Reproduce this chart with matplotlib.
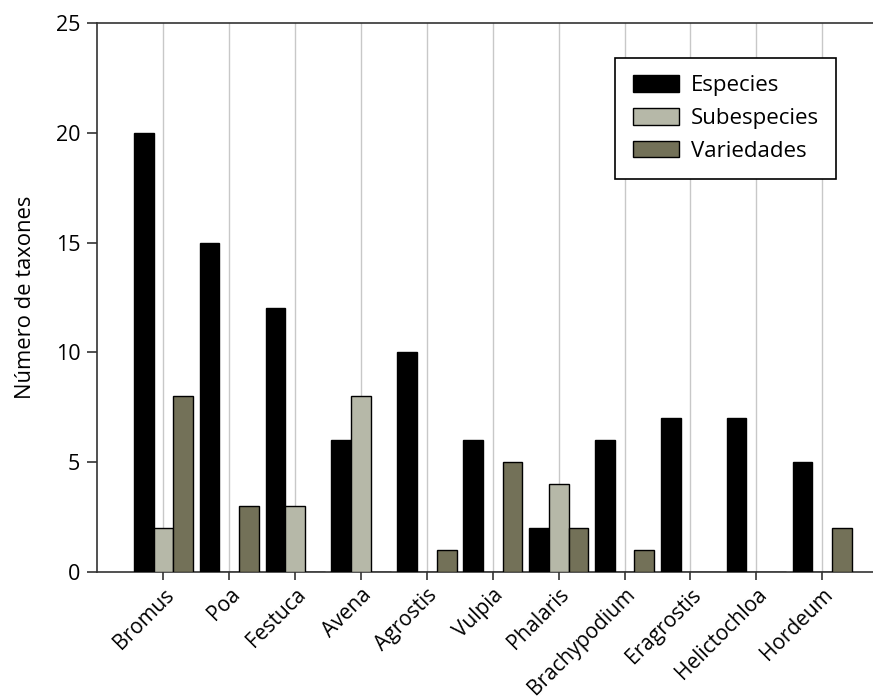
import numpy as np
import matplotlib
matplotlib.use('Agg')
import matplotlib.pyplot as plt
import matplotlib.transforms as mtransforms

plt.rcParams['font.family'] = ['Open Sans', 'DejaVu Sans']

generos = ['Bromus', 'Poa', 'Festuca', 'Avena', 'Agrostis', 'Vulpia', 'Phalaris',
           'Brachypodium', 'Eragrostis', 'Helictochloa', 'Hordeum']
especies = [20, 15, 12, 6, 10, 6, 2, 6, 7, 7, 5]
subespecies = [2, 0, 3, 8, 0, 0, 4, 0, 0, 0, 0]
variedades = [8, 3, 0, 0, 1, 5, 2, 1, 0, 0, 2]

names = ['Especies', 'Subespecies', 'Variedades']
colors = ['#000000', '#b6b8a8', '#737158']
fs = 15.5

fig = plt.figure(figsize=(8.73, 6.99), dpi=100)
ax = fig.add_axes([0.111, 0.182, 0.895, 0.785])

x = np.arange(len(generos))
w = 0.3
for k, vals in enumerate([especies, subespecies, variedades]):
    ax.bar(x + (k - 1) * w, vals, width=w, color=colors[k], edgecolor='black',
           linewidth=1, label=names[k], zorder=3)

ax.set_xlim(-1.01, 10.85)
ax.set_ylim(0, 25)
ax.set_yticks([0, 5, 10, 15, 20, 25])
ax.set_xticks(x)
ax.set_xticklabels(generos, rotation=45, ha='right', rotation_mode='anchor')
offset = mtransforms.ScaledTranslation(4 / 100, 4 / 100, fig.dpi_scale_trans)
for lab in ax.get_xticklabels():
    lab.set_transform(lab.get_transform() + offset)
ax.xaxis.grid(True, color='#c8c8c8', linewidth=1, zorder=0)
ax.set_axisbelow(True)
ax.spines['right'].set_visible(False)
for s in ['left', 'bottom', 'top']:
    ax.spines[s].set_linewidth(1.2)
    ax.spines[s].set_color('#333333')
ax.tick_params(axis='both', labelsize=fs, width=1.2, color='#333333', direction='out')
ax.tick_params(axis='x', length=6, pad=3, labelsize=15)
ax.tick_params(axis='y', length=7, pad=5)
ax.set_ylabel('Número de taxones', fontsize=15.8, labelpad=14)

leg = ax.legend(loc='upper right', bbox_to_anchor=(836 / 873, 1 - 58 / 699),
                bbox_transform=fig.transFigure, fontsize=16, fancybox=False,
                edgecolor='black', framealpha=1, borderpad=0.78, handlelength=2.1,
                handleheight=0.78, handletextpad=0.5, labelspacing=0.52, borderaxespad=0)
leg.get_frame().set_linewidth(1.2)

plt.savefig('out.png', dpi=100)
